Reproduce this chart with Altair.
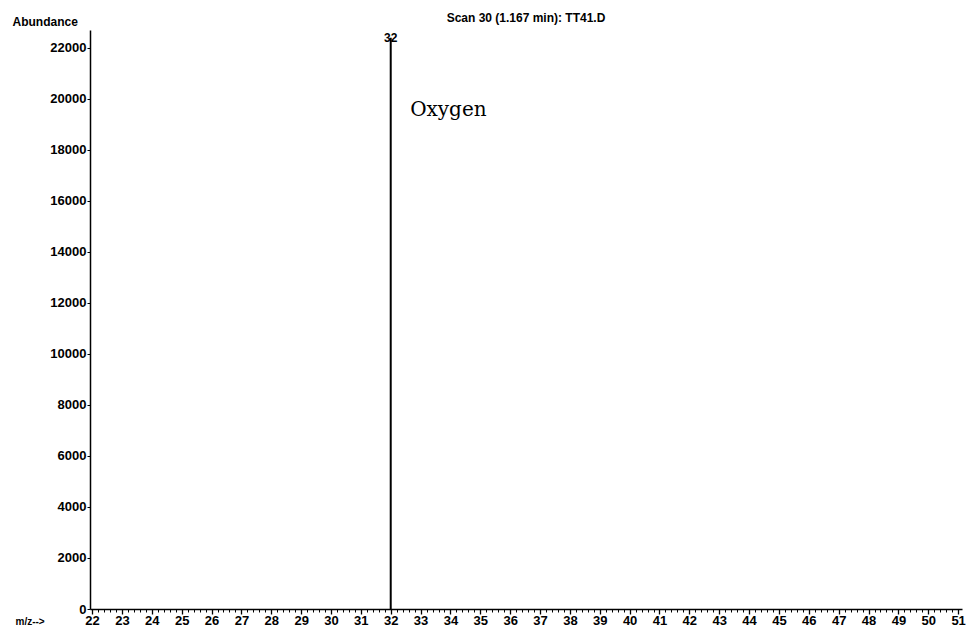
import altair as alt
import pandas as pd

# Spectrum data (m/z vs abundance)
mz = [32]
abundance = [22400]

x_major = list(range(22, 52))
x_minor = [round(22 + 0.2 * i, 1) for i in range(0, 146)]
y_ticks = list(range(0, 22001, 2000))

title_text = "Scan 30 (1.167 min): TT41.D"
annot_text = ["Oxygen"]
annot_x = [32.65]
annot_y = [19550]

spec = pd.DataFrame({"mz": mz, "abundance": abundance})
annot = pd.DataFrame({"x": annot_x, "y": annot_y, "t": annot_text})

XDOM = [21.93, 51.13]
YDOM = [0, 22700]
FONT = "Liberation Sans"

xscale = alt.Scale(domain=XDOM, nice=False, zero=False)
yscale = alt.Scale(domain=YDOM, nice=False)

y_axis = alt.Axis(values=y_ticks, format="d", tickSize=3, grid=False,
                  labelFontSize=13, labelFontWeight="bold", labelFont=FONT,
                  labelPadding=1, domainWidth=1.5,
                  title="Abundance", titleAngle=0, titleFont=FONT,
                  titleFontSize=12, titleFontWeight="bold", titleAlign="left",
                  titleBaseline="middle", titleX=-78, titleY=-9)

peaks = alt.Chart(spec).mark_rule(color="black", strokeWidth=2).encode(
    x=alt.X("mz:Q", scale=xscale,
            axis=alt.Axis(values=x_major, format="d", tickSize=5, tickWidth=1.3,
                          labelFontSize=13, labelFontWeight="bold", labelFont=FONT,
                          labelPadding=0, labelOverlap=False, labelFlush=False,
                          grid=False, domainWidth=1.5, orient="bottom",
                          title="m/z-->", titleFont=FONT, titleFontSize=10,
                          titleFontWeight="bold", titleAnchor="start", titleAlign="left",
                          titleX=-75, titleY=12, titleBaseline="middle")),
    y=alt.Y("abundance:Q", scale=yscale, axis=y_axis),
    y2=alt.datum(0),
)

peak_labels = alt.Chart(spec).mark_text(
    font=FONT, fontSize=12, fontWeight="bold", color="black", baseline="middle"
).encode(
    x=alt.X("mz:Q", scale=xscale, axis=None),
    y=alt.Y("abundance:Q", scale=yscale, axis=y_axis),
    text=alt.Text("mz:Q", format="d"),
)

oxygen = alt.Chart(annot).mark_text(
    font="DejaVu Serif", fontSize=20, color="black", align="left", baseline="middle"
).encode(
    x=alt.X("x:Q", scale=xscale,
            axis=alt.Axis(values=x_minor, labels=False, tickSize=3, tickWidth=1,
                          domain=False, grid=False, orient="bottom", title=None)),
    y=alt.Y("y:Q", scale=yscale, axis=y_axis),
    text="t:N",
)

chart = alt.layer(peaks, peak_labels, oxygen).resolve_axis(
    x="independent", y="shared"
).properties(
    width=872,
    height=579,
    autosize=alt.AutoSizeParams(type="none"),
    padding={"left": 82, "top": 22, "right": 4, "bottom": 20},
    title=alt.TitleParams(title_text, font=FONT, fontSize=12, fontWeight="bold",
                          color="black", anchor="middle", offset=4, dy=14),
).configure_view(stroke=None).configure_axis(
    domainColor="black", tickColor="black", labelColor="black", titleColor="black"
)

chart.save("out.html", embed_options={"renderer": "svg", "actions": False})
